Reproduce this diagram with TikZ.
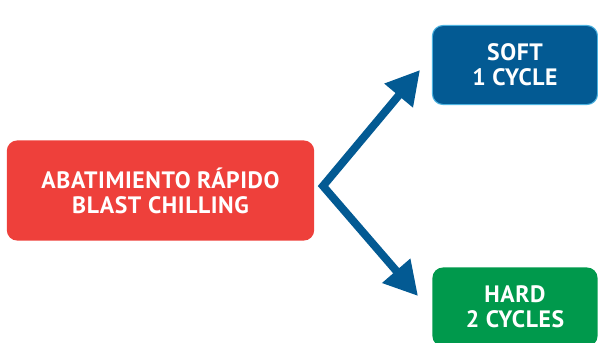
\documentclass[tikz,border=0pt]{standalone}
\usepackage{fontspec}
\setmainfont{PT Sans}
\usepackage{xcolor}
\usetikzlibrary{positioning, arrows.meta}
\definecolor{chillred}{HTML}{EE403B}
\definecolor{softblue}{HTML}{035A93}
\definecolor{softedge}{HTML}{4DB3E0}
\definecolor{hardgreen}{HTML}{00994C}

\begin{document}
\begin{tikzpicture}[x=0.02cm,y=-0.02cm,>={Triangle[length=19pt,width=20pt]},
    box/.style={rounded corners=6pt,align=center,text=white,font=\bfseries\fontsize{13.5}{14.3}\selectfont\addfontfeatures{LetterSpace=2.5},inner sep=0pt},
    flow/.style={<->,draw=softblue,line width=4.5pt,miter limit=10}]
    \clip (0,0) rectangle (598,342);
    \node[box,fill=chillred,minimum width=175pt,minimum height=57pt] (chill) at (160.5,190.5) {ABATIMIENTO RÁPIDO\\BLAST CHILLING};
    \node[box,fill=softblue,draw=softedge,line width=0.6pt,minimum width=94pt,minimum height=45pt] (soft) at (515,65) {SOFT\\1 CYCLE};
    \node[box,fill=hardgreen,minimum width=94pt,minimum height=45pt] (hard) at (515,307) {HARD\\2 CYCLES};

    \coordinate (split) at (323,186);
    \coordinate (softtip) at (420,70);
    \coordinate (hardtip) at (418,296);
    \draw[flow] (softtip) -- (split) -- (hardtip);
\end{tikzpicture}
\end{document}
